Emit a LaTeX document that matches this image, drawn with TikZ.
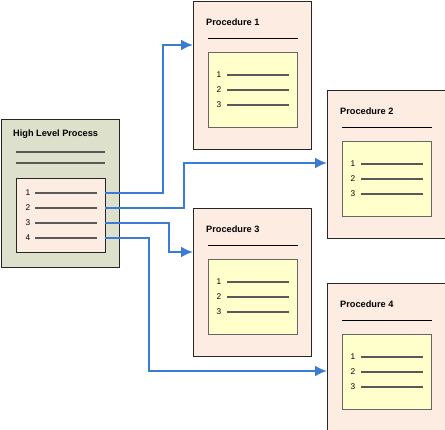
\documentclass[tikz,border=0pt]{standalone}
\usepackage{fontspec}
\setmainfont{Liberation Sans}
\usepackage{tikz}
\usetikzlibrary{arrows.meta}

\definecolor{hlgreen}{RGB}{221,224,203}
\definecolor{peach}{RGB}{252,236,226}
\definecolor{paleyellow}{RGB}{255,255,204}
\definecolor{linkblue}{RGB}{58,123,213}

\begin{document}
\begin{tikzpicture}[x=1pt,y=-1pt,
        outer/.style={draw=black!85, line width=1pt, anchor=north west, inner sep=0pt},
        inner/.style={draw=black!60, line width=1pt, anchor=north west, inner sep=0pt},
        rule/.style={draw=black!65, line width=1.3pt},
        num/.style={font=\fontsize{8.3}{10}\selectfont, inner sep=0pt},
        title/.style={font=\bfseries\fontsize{9.2}{11}\selectfont, anchor=west, inner sep=0pt},
        link/.style={draw=linkblue, line width=2.2pt, -{Latex[length=12pt,width=11pt]}}]
        \useasboundingbox (0,0) rectangle (445,430);

        % high level process
        \node[outer, fill=hlgreen, minimum width=118, minimum height=148] (hl) at (1,119) {};
        \node[title] (hl-title) at (13,134) {High Level Process};
        \draw[rule, line width=1.6pt] (16,152) -- (105,152);
        \draw[rule, line width=1.6pt] (16,163) -- (105,163);
        \node[inner, draw=black!85, fill=peach, minimum width=89, minimum height=74] (hl-list) at (16,178) {};
        \foreach \i/\y in {1/193,2/208,3/223,4/238}{
            \node[num] (hl-num\i) at (28,\y) {\i};
            \draw[rule] (35,\y) -- (97,\y);
            \coordinate (h\i) at (105,\y);
        }

        % procedures
        \foreach \n/\x/\y in {1/193/1,2/327/90,3/193/208,4/327/283}{
            \node[outer, fill=peach, minimum width=118, minimum height=148] (p\n) at (\x,\y) {};
            \node[title] (p\n-title) at (\x+13,\y+21) {Procedure \n};
            \draw[black, line width=1pt] (\x+15,\y+38) -- (\x+105,\y+38);
            \node[inner, fill=paleyellow, minimum width=89, minimum height=75] (p\n-list) at (\x+15,\y+51) {};
            \foreach \k in {1,2,3}{
                \node[num] (p\n-num\k) at (\x+26,\y+59+15*\k) {\k};
                \draw[rule] (\x+34,\y+59+15*\k) -- (\x+96,\y+59+15*\k);
            }
        }

        % targets on the procedure boxes
        \coordinate (t1) at (193,45);
        \coordinate (t2) at (327,163);
        \coordinate (t3) at (193,252);
        \coordinate (t4) at (327,371);

        \foreach \i/\dx in {1/30,2/143,3/24,4/178}{
            \draw[link] (h\i) -| ([xshift=-\dx pt]t\i) -- (t\i);
        }

    \end{tikzpicture}
\end{document}
